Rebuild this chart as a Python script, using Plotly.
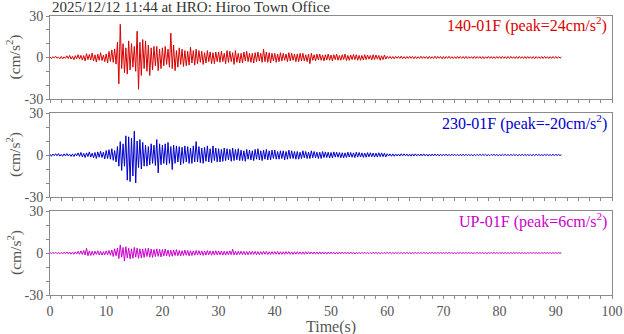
import plotly.graph_objects as go

DT = 0.25

title_text = "2025/12/12 11:44 at HRO: Hiroo Town Office"
channels = ["140-01F", "230-01F", "UP-01F"]
peaks = ["24", "-20", "6"]
colors = ["#d80000", "#0000cc", "#cc00cc"]

# one row = 1 s (4 samples)
ns_vals = [
    0.4, -0.8, 0.6, -0.3, 0.9, -0.5, 0.3, -0.9, 0.7, -1.0, 0.5, -0.6, 1.2, -0.7, 1.5, -1.1,
    0.8, -1.6, 1.3, -0.9, 2.0, -1.2, 1.6, -1.8, 1.4, -2.5, 2.8, -1.5, 2.2, -1.8, 3.2, -2.6,
    1.9, -3.3, 2.4, -2.0, 3.5, -2.2, 1.7, -3.0,
    2.6, -4.0, 4.4, -2.8, 5.5, -3.5, 6.2, -4.8, 11, -19, 24, -8, 10, -11, 7, -12,
    12, -9, 10, -7, 8, -10, 19, -23, 11, -13, 13, -8, 12, -10, 9, -13,
    7, -9, 8, -6, 8, -9.5, 6, -8,
    7, -6, 8, -5, 6, -7, 17.6, -8, 9, -9.5, 5, -7, 7, -5, 6, -6.5,
    5, -6, 4.5, -5.5, 7.5, -4, 5, -5.5, 6, -4.5, 5, -3.5, 4.5, -5, 3.5, -4,
    5, -3, 4, -4.5, 3.5, -4.5, 4, -3,
    4, -3.5, 4.5, -3, 3, -4.5, 5, -3.5, 4.5, -3, 3.5, -5, 5, -3.5, 3, -4,
    3, -4, 4, -2.5, 4.5, -3, 3, -3.5, 3, -4, 3.5, -3, 4, -2.5, 3, -3.5,
    6, -3, 4, -3.5, 3.5, -4, 3, -2.5,
    3, -3.5, 2.5, -3, 3.5, -2.5, 3, -2, 2.5, -3, 3.5, -2.5, 3, -2, 2.5, -3,
    2.5, -3, 3, -2.5, 3, -2.5, 2, -3, 2.5, -4.5, 3, -2, 2, -2.5, 2.5, -1.8,
    2.5, -2, 1.8, -2.5, 2, -1.8, 2.5, -2,
    1.8, -2.5, 2, -1.5, 2.5, -2, 1.5, -2, 2, -1.5, 2.5, -2.2, 1.5, -2, 1.8, -1.5,
    2.2, -1.5, 2, -2, 1.5, -2, 1.5, -1.8, 2, -1.5, 1.8, -1.2, 1.5, -1.8, 2, -1.5,
    1.8, -1.2, 1.5, -2, 1.2, -1.5, 1.8, -1.2,
    0.9, -0.7, 0.8, -0.9, 0.7, -0.9, 0.8, -0.6, 0.8, -0.7, 1.0, -0.8, 0.6, -0.9, 0.7, -0.7,
    0.9, -0.6, 0.8, -0.9, 0.7, -0.8, 0.6, -0.7, 0.9, -0.7, 0.7, -0.6, 0.7, -0.9, 0.8, -0.7,
    0.6, -0.7, 0.9, -0.8, 0.8, -0.6, 0.7, -0.9,
    0.7, -0.8, 0.7, -0.6, 0.9, -0.7, 0.6, -0.7, 0.6, -0.8, 0.8, -0.7, 0.7, -0.6, 0.7, -0.8,
    0.8, -0.7, 0.6, -0.6, 0.6, -0.7, 0.8, -0.7, 0.7, -0.6, 0.7, -0.8, 0.7, -0.8, 0.6, -0.6,
    0.8, -0.6, 0.7, -0.7, 0.6, -0.7, 0.7, -0.6,
    0.7, -0.7, 0.8, -0.6, 0.6, -0.8, 0.7, -0.7, 0.8, -0.6, 0.6, -0.7, 0.7, -0.7, 0.8, -0.6,
    0.6, -0.7, 0.7, -0.8, 0.7, -0.6, 0.6, -0.7, 0.7, -0.8, 0.7, -0.6, 0.6, -0.7, 0.7, -0.7,
    0.8, -0.6, 0.6, -0.7, 0.6, -0.7, 0.7, -0.6,
    0.7, -0.6, 0.6, -0.5, 0.4,
]

ew_vals = [
    0.6, -0.9, 0.7, -0.5, 0.9, -0.6, 1.0, -0.8, 0.5, -0.9, 0.8, -0.7, 1.0, -0.7, 0.6, -1.0,
    0.8, -1.1, 0.9, -0.6, 1.5, -1.0, 1.8, -1.3, 1.2, -1.8, 1.5, -1.1, 2.2, -1.5, 1.3, -2.0,
    1.8, -2.5, 2.2, -1.6, 2.6, -1.8, 2.0, -2.8,
    3.2, -2.5, 3.8, -3.0, 4.5, -3.8, 3.2, -5.0, 6, -8, 9.6, -11, 8, -8, 13.7, -18,
    13, -19, 12, -15, 17, -20, 10, -9, 11, -10, 9, -8, 7, -8, 6, -7,
    8, -6, 7, -7.5, 11, -12.8, 8, -7,
    7, -6, 8, -7, 9, -6, 6, -10.4, 7, -6, 6.5, -5, 6, -7, 5.5, -6,
    6.5, -5, 6, -6, 5, -6, 6.5, -5, 9.6, -5, 6, -5.5, 5, -6, 5.5, -4.5,
    6.5, -5, 4.5, -5.5, 6.5, -4, 5, -5,
    4.5, -5, 4, -4.5, 5, -4, 4.5, -3.5, 4, -4.5, 5, -4, 4, -3.5, 4.5, -4,
    3.5, -4, 3, -4.5, 4, -3, 3.5, -3.5, 3, -4, 4, -3, 4.5, -3.5, 3, -4,
    3.5, -3, 4, -3.5, 3, -3.5, 3.5, -2.5,
    3.5, -3, 2.5, -3, 3, -2.5, 3, -3.5, 2.5, -3, 3.5, -2.5, 3, -2.5, 2.5, -3,
    2.5, -3, 2, -2.5, 3, -2, 2.5, -2.5, 2, -2.5, 3, -2, 2.5, -2, 2, -2.5,
    2, -2.5, 2.5, -1.8, 2.2, -1.8, 2, -2.2,
    1.8, -2, 2.2, -1.5, 2, -1.6, 1.8, -2, 1.6, -2, 1.5, -1.8, 2, -1.5, 1.8, -1.6,
    1.5, -1.8, 2, -1.5, 1.8, -1.4, 1.5, -1.7, 1.4, -1.6, 1.7, -1.3, 1.6, -1.3, 1.4, -1.5,
    1.3, -1.5, 1.6, -1.2, 1.5, -1.2, 1.3, -1.4,
    0.9, -0.7, 0.8, -0.9, 0.8, -0.9, 0.7, -0.7, 0.7, -0.8, 0.9, -0.6, 0.8, -0.6, 0.7, -0.8,
    0.6, -0.8, 0.8, -0.7, 0.8, -0.6, 0.6, -0.7, 0.7, -0.7, 0.8, -0.6, 0.6, -0.8, 0.6, -0.7,
    0.7, -0.6, 0.7, -0.6, 0.6, -0.7, 0.6, -0.6,
    0.6, -0.5, 0.7, -0.6, 0.5, -0.6, 0.6, -0.5, 0.6, -0.5, 0.5, -0.6, 0.5, -0.6, 0.6, -0.5,
    0.6, -0.5, 0.5, -0.5, 0.5, -0.6, 0.5, -0.5, 0.5, -0.5, 0.6, -0.4, 0.6, -0.4, 0.5, -0.5,
    0.4, -0.5, 0.5, -0.4, 0.5, -0.4, 0.4, -0.5,
    0.4, -0.5, 0.5, -0.4, 0.5, -0.4, 0.4, -0.4, 0.4, -0.4, 0.5, -0.4, 0.4, -0.5, 0.4, -0.4,
    0.5, -0.4, 0.4, -0.4, 0.4, -0.4, 0.4, -0.5, 0.4, -0.4, 0.5, -0.3, 0.4, -0.4, 0.3, -0.4,
    0.4, -0.3, 0.4, -0.4, 0.3, -0.4, 0.4, -0.3,
    0.4, -0.3, 0.3, -0.3, 0.2,
]

ud_vals = [
    0.4, -0.6, 0.5, -0.4, 0.6, -0.5, 0.4, -0.6, 0.5, -0.7, 0.6, -0.5, 0.8, -0.6, 0.7, -0.8,
    0.6, -0.9, 0.8, -0.7, 1.2, -0.9, 1.5, -1.1, 1.8, -1.4, 3.4, -2.0, 1.5, -1.8, 1.2, -1.6,
    1.3, -1.0, 1.6, -1.4, 1.2, -1.5, 1.0, -1.3,
    1.5, -1.2, 1.8, -1.6, 2.2, -2.5, 3.0, -2.0, 3.5, -4.0, 5.8, -3.0, 4.0, -5.8, 4.5, -3.5,
    3.5, -4.2, 3.0, -3.8, 4.0, -3.0, 3.5, -3.8, 3.0, -3.5, 2.8, -3.2, 3.2, -2.5, 3.5, -3.0,
    2.8, -3.2, 2.5, -2.6, 3.0, -2.4, 2.6, -2.8,
    2.5, -2.2, 2.8, -2.0, 2.2, -2.5, 2.0, -2.3, 2.0, -1.8, 2.4, -2.0, 1.8, -2.2, 1.6, -1.8,
    2.0, -1.6, 1.8, -2.0, 1.6, -1.8, 1.5, -1.6, 1.8, -1.4, 1.7, -1.5, 1.5, -1.7, 1.4, -1.5,
    1.7, -1.3, 1.5, -1.6, 1.4, -1.5, 1.6, -1.3,
    1.5, -1.3, 1.4, -1.5, 1.3, -1.5, 1.2, -1.3, 1.5, -1.2, 2.7, -1.4, 1.2, -1.4, 1.3, -1.1,
    1.3, -1.1, 1.2, -1.3, 1.1, -1.3, 1.2, -1.0, 1.2, -1.0, 1.1, -1.2, 1.0, -1.2, 1.0, -1.0,
    1.2, -0.9, 1.1, -1.1, 0.9, -1.1, 1.0, -0.9,
    1.0, -0.9, 1.1, -1.0, 0.9, -1.0, 0.9, -0.9, 1.0, -0.8, 1.0, -0.9, 0.8, -1.0, 0.9, -0.8,
    0.9, -0.8, 0.8, -0.9, 0.8, -0.9, 0.9, -0.7, 0.9, -0.7, 0.8, -0.8, 0.7, -0.8, 0.7, -0.8,
    0.8, -0.7, 0.8, -0.7, 0.7, -0.8, 0.7, -0.7,
    0.7, -0.7, 0.6, -0.7, 0.6, -0.7, 0.7, -0.6, 0.7, -0.6, 0.6, -0.7, 0.6, -0.6, 0.7, -0.6,
    0.6, -0.7, 0.5, -0.6, 0.5, -0.6, 0.5, -0.5, 0.6, -0.5, 0.5, -0.5, 0.5, -0.5, 0.6, -0.4,
    0.5, -0.5, 0.4, -0.5, 0.4, -0.5, 0.5, -0.4,
    0.5, -0.4, 0.5, -0.5, 0.4, -0.5, 0.4, -0.4, 0.5, -0.4, 0.4, -0.5, 0.4, -0.4, 0.5, -0.4,
    0.4, -0.5, 0.4, -0.4, 0.5, -0.4, 0.4, -0.4, 0.4, -0.4, 0.5, -0.4, 0.4, -0.5, 0.4, -0.3,
    0.5, -0.4, 0.3, -0.4, 0.4, -0.3, 0.4, -0.4,
    0.3, -0.4, 0.4, -0.3, 0.4, -0.3, 0.3, -0.4, 0.3, -0.4, 0.4, -0.3, 0.4, -0.3, 0.3, -0.3,
    0.3, -0.3, 0.4, -0.3, 0.3, -0.4, 0.3, -0.3, 0.4, -0.3, 0.3, -0.3, 0.3, -0.3, 0.3, -0.4,
    0.3, -0.3, 0.4, -0.3, 0.4, -0.3, 0.3, -0.3,
    0.3, -0.3, 0.3, -0.3, 0.3, -0.4, 0.3, -0.3, 0.3, -0.3, 0.3, -0.3, 0.4, -0.3, 0.3, -0.3,
    0.3, -0.3, 0.3, -0.4, 0.3, -0.3, 0.4, -0.3, 0.3, -0.3, 0.3, -0.3, 0.3, -0.4, 0.3, -0.3,
    0.4, -0.3, 0.3, -0.3, 0.3, -0.3, 0.3, -0.3,
    0.3, -0.3, 0.3, -0.2, 0.2,
]

series = [ns_vals, ew_vals, ud_vals]

y_ticks = [-30, -20, -10, 0, 10, 20, 30]
y_labels = ["-30", "", "", "0", "", "", "30"]
x_ticks = list(range(0, 101, 2))
x_labels = [str(v) if v % 10 == 0 else "" for v in x_ticks]

FONT = "Liberation Serif"
AXIS_COLOR = "#8a8a8a"
TEXT_COLOR = "#555555"
TICK_SIZE = 14

W, H = 624, 334
ML, MR, MT, MB = 50, 12, 16, 39
PH = H - MT - MB
panels_px = [(16, 99), (113, 197), (211, 295)]


def frac(py):
    return (H - MB - py) / PH


fig = go.Figure()
layout = dict(
    width=W, height=H,
    margin=dict(l=ML, r=MR, t=MT, b=MB, autoexpand=False),
    paper_bgcolor="white", plot_bgcolor="white",
    showlegend=False,
    font=dict(family=FONT, size=TICK_SIZE, color=TEXT_COLOR),
)

annotations = []
for i, (vals, col, ch, pk) in enumerate(zip(series, colors, channels, peaks)):
    n = i + 1
    xa = "x" if n == 1 else f"x{n}"
    ya = "y" if n == 1 else f"y{n}"
    t = [k * DT for k in range(len(vals))]
    fig.add_trace(go.Scatter(x=t, y=vals, mode="lines", line=dict(color=col, width=1),
                             xaxis=xa, yaxis=ya, hoverinfo="skip"))
    top, bot = panels_px[i]
    dom = [frac(bot), frac(top)]
    last = (i == 2)
    layout["xaxis" if n == 1 else f"xaxis{n}"] = dict(
        domain=[0, 1], range=[0, 100], anchor=ya, automargin=False,
        tickmode="array", tickvals=x_ticks,
        ticktext=x_labels if last else [""] * len(x_ticks),
        showticklabels=last, ticklabelstandoff=0,
        ticks="outside", ticklen=3, tickcolor=AXIS_COLOR, tickwidth=1,
        showline=True, linecolor=AXIS_COLOR, linewidth=1, mirror=True,
        showgrid=False, zeroline=False,
        tickfont=dict(family=FONT, size=TICK_SIZE, color=TEXT_COLOR),
    )
    layout["yaxis" if n == 1 else f"yaxis{n}"] = dict(
        domain=dom, range=[-30, 30], anchor=xa, automargin=False,
        tickmode="array", tickvals=y_ticks, ticktext=y_labels,
        ticks="outside", ticklen=3, tickcolor=AXIS_COLOR, tickwidth=1,
        showline=True, linecolor=AXIS_COLOR, linewidth=1, mirror=True,
        showgrid=False, zeroline=False,
        tickfont=dict(family=FONT, size=TICK_SIZE, color=TEXT_COLOR),
    )
    annotations.append(dict(
        xref="paper", yref="paper", x=1, y=frac(top + 9), xanchor="right", yanchor="middle",
        xshift=-3, showarrow=False,
        text=f"{ch} (peak={pk}cm/s<sup>2</sup>)",
        font=dict(family=FONT, size=16, color=col),
    ))
    annotations.append(dict(
        xref="paper", yref="paper", x=-36 / (W - ML - MR), y=(dom[0] + dom[1]) / 2,
        xanchor="center", yanchor="middle", textangle=-90, showarrow=False,
        text="(cm/s<sup>2</sup>)",
        font=dict(family=FONT, size=15.5, color=TEXT_COLOR),
    ))

annotations.append(dict(
    xref="paper", yref="paper", x=0.5, y=frac(327), xanchor="center", yanchor="middle",
    showarrow=False, text="Time(s)",
    font=dict(family=FONT, size=16, color=TEXT_COLOR),
))
annotations.append(dict(
    xref="paper", yref="paper", x=0, y=frac(7), xanchor="left", yanchor="middle",
    showarrow=False, text=title_text,
    font=dict(family=FONT, size=15, color="#333333"),
))
layout["annotations"] = annotations
fig.update_layout(**layout)
fig.write_html("out.html")
